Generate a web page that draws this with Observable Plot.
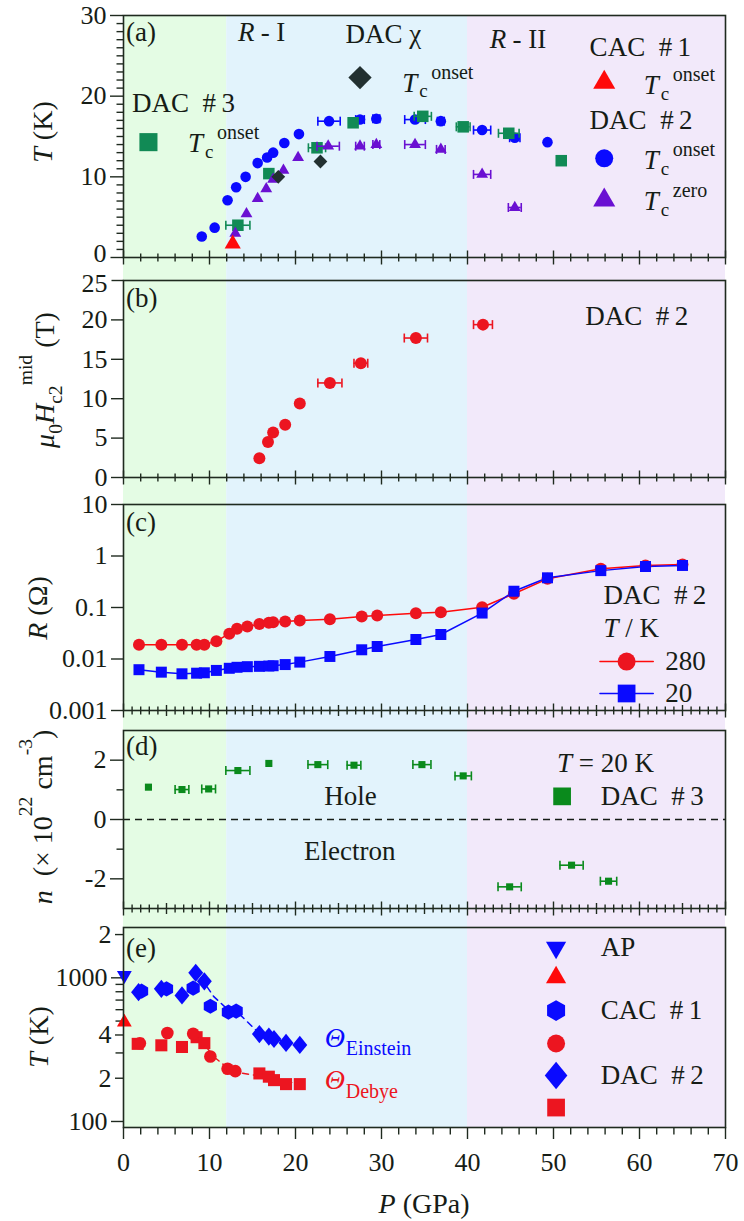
<!DOCTYPE html>
<html><head><meta charset="utf-8">
<script src="https://cdn.jsdelivr.net/npm/d3@7"></script>
<script src="https://cdn.jsdelivr.net/npm/@observablehq/plot@0.6"></script>
<style>
html,body{margin:0;padding:0;background:#fff;}
#chart{position:relative;width:744px;height:1221px;overflow:hidden;background:#fff;}
#chart svg{position:absolute;left:0;overflow:visible;}
#chart svg, #chart svg text, #chart svg tspan{font-family:"Liberation Serif","Times New Roman",Tinos,"DejaVu Serif",serif !important;}
</style></head><body><div id="chart"></div>
<script>
// ================= DATA =================
const pressureRange = [0, 70];
const regionBounds = [0, 12, 40, 70];

// (a) Tc vs P : [P (GPa), T (K), P error (GPa)]
const dac2TcOnset = [[9.1,2.6,0],[10.6,3.7,0],[12.1,7.1,0],[13.1,8.7,0],[14.2,10.0,0],[15.6,11.7,0],[16.7,12.4,0],[17.4,13.0,0],[18.7,14.2,0],[20.4,15.3,0],[23.9,16.9,1.3],[27.5,17.1,0.5],[29.4,17.2,0.4],[33.9,17.1,1.2],[36.9,16.9,0.4],[41.7,15.8,1.0],[45.5,14.85,0.6],[49.3,14.3,0]];
const dac2TcZero = [[13.0,3.0,0],[14.3,5.4,0],[15.6,7.3,0],[16.6,8.5,0],[17.4,9.7,0],[18.6,10.8,0],[20.3,12.4,0],[23.8,13.8,1.3],[27.5,13.8,0.5],[29.4,14.0,0.4],[33.9,14.0,1.2],[36.9,13.4,0.5],[41.7,10.3,1.0],[45.5,6.2,0.75]];
const dac3TcOnset = [[13.3,4.0,1.4],[16.9,10.4,0],[22.5,13.6,1.0],[26.7,16.7,0],[34.8,17.5,1.0],[39.5,16.2,0.8],[44.8,15.4,1.2],[50.9,12.0,0]];
const cac1TcOnset = [[12.7,1.7]];
const dacChiTcOnset = [[18.0,10.0],[22.9,11.9]];

// (b) upper critical field : [P, mu0Hc2 (T), P error]
const dac2Hc2 = [[15.8,2.45,0],[16.8,4.5,0],[17.4,5.7,0],[18.8,6.7,0],[20.5,9.4,0],[24.0,12.0,1.4],[27.6,14.5,0.8],[34.0,17.7,1.35],[41.8,19.4,1.1]];

// (c) resistance of DAC #2
const resP   = [1.8,4.4,6.8,8.5,9.4,10.8,12.3,13.2,14.4,15.8,16.9,17.4,18.8,20.5,24.0,27.7,29.5,34.0,36.9,41.7,45.4,49.3,55.5,60.7,65.0];
const res280 = [0.0189,0.0189,0.0189,0.0189,0.019,0.0222,0.031,0.0386,0.0426,0.048,0.0505,0.0519,0.0534,0.056,0.0593,0.0668,0.070,0.0776,0.081,0.101,0.185,0.36,0.563,0.655,0.684];
const res20  = [0.0062,0.00555,0.00516,0.0053,0.0054,0.006,0.0066,0.0069,0.0071,0.0072,0.0073,0.0074,0.0078,0.0087,0.0112,0.0151,0.0175,0.0239,0.0299,0.078,0.207,0.377,0.52,0.625,0.655];

// (d) Hall carrier density : [P, n (1e22 cm^-3), P error]
const hallN = [[2.9,1.09,0],[6.8,1.01,0.8],[9.9,1.03,0.8],[13.3,1.65,1.4],[16.9,1.89,0],[22.6,1.85,1.15],[26.8,1.83,0.8],[34.7,1.85,1.05],[39.5,1.47,0.95],[44.9,-2.27,1.35],[52.1,-1.54,1.35],[56.4,-2.08,0.95]];

// (e) Einstein / Debye temperatures : [P, T (K)]
const apEinstein = [[0.1,1040]];
const apDebye = [[0.1,490]];
const cac1Einstein = [[2.1,807],[5.0,838],[8.1,847],[10.1,634],[12.2,577],[13.1,586]];
const cac1Debye = [[1.9,350],[5.1,413],[8.1,408],[10.1,283],[12.1,233],[13.0,224]];
const dac2Einstein = [[1.75,795],[4.4,838],[6.8,754],[8.4,1084],[9.4,946],[15.8,406],[16.9,390],[17.5,375],[18.9,352],[20.5,341]];
const dac2Debye = [[1.65,347],[4.4,339],[6.8,330],[8.5,386],[9.4,351],[15.8,216],[16.9,205],[17.5,194],[18.9,182],[20.5,182]];
const einsteinGuide = [[9.0,1000],[10.5,740],[12.2,595],[13.3,572],[15.8,410],[18.0,368],[20.5,343]];
const debyeGuide = [[9.0,370],[10.5,282],[12.2,234],[13.5,218],[15.8,208],[20.5,182]];

// tick labels
const xTickLabels = [0,10,20,30,40,50,60,70];
const aTickLabels = [10,20,30];
const aBottomTickLabel = [0];
const bTickLabels = [0,5,10,15,20];
const bTopTickLabel = [25];
const cTickLabels = [0.001,0.01,0.1,1,10];
const dTickLabels = [-2,0,2];
const eMajorTickLabels = [100,1000];
const eMinorTickLabels = [200,400,2000];
const eUnlabeledTicks = [300,500,600,700,800,900];

// ================= STYLE / LAYOUT =================
const FONT = "Liberation Serif, Times New Roman, Tinos, DejaVu Serif, serif";
const INK = "#161c16";
const FRAME = "#1f2a1f";
const BG = ["#e4fce4", "#e2f3fc", "#f2e9fa"];
const BLUE = "#0a0aff", PURPLE = "#6a10d2", TEAL = "#118a55", GREEN = "#0a8a1c";
const RED = "#ec1520", RED2 = "#ff0a0a", DARK = "#223030";
const W = 744, ML = 123, MR = 19;
const PANELS = {a:[15,257], b:[280,477], c:[504,710], d:[730,908], e:[927,1127]};
const chart = document.getElementById("chart");

const sym = {
  vbar:  {draw(c,s){const r=Math.sqrt(s/Math.PI); c.moveTo(0,-r); c.lineTo(0,r);}},
  vdown: {draw(c,s){const r=Math.sqrt(s/Math.PI); c.moveTo(0,0); c.lineTo(0,r);}},
  hleft: {draw(c,s){const r=Math.sqrt(s/Math.PI); c.moveTo(-r,0); c.lineTo(0,0);}},
  diamond: {draw(c,s){const h=Math.sqrt(s/2); c.moveTo(0,-h); c.lineTo(h,0); c.lineTo(0,h); c.lineTo(-h,0); c.closePath();}},
  diamondTall: {draw(c,s){const h=Math.sqrt(s/2)*1.1, w=h*0.82; c.moveTo(0,-h); c.lineTo(w,0); c.lineTo(0,h); c.lineTo(-w,0); c.closePath();}},
  triDown: {draw(c,s){const a=Math.sqrt(s/0.433), h=a*0.866; c.moveTo(-a/2,-h/3); c.lineTo(a/2,-h/3); c.lineTo(0,2*h/3); c.closePath();}}
};
const X = d => d[0], Y = d => d[1];

function errBars(data, color) {
  const e = data.filter(d => d[2] > 0);
  return [
    Plot.ruleY(e, {y: Y, x1: d => d[0]-d[2], x2: d => d[0]+d[2], stroke: color, strokeWidth: 1.6}),
    Plot.dot(e, {x: d => d[0]-d[2], y: Y, symbol: sym.vbar, r: 4.5, stroke: color, strokeWidth: 1.6, fill: "none"}),
    Plot.dot(e, {x: d => d[0]+d[2], y: Y, symbol: sym.vbar, r: 4.5, stroke: color, strokeWidth: 1.6, fill: "none"})
  ];
}
function xCrossTicks(yBase, step) {
  const all = d3.range(0, 70 + step/2, step);
  const groups = [[all.filter(v => v % 10 === 0), 7], [all.filter(v => v % 10 !== 0 && v % 5 === 0), 5.5], [all.filter(v => v % 5 !== 0), 4]];
  return groups.map(([vals, len]) => Plot.dot(vals, {x: d => d, y: () => yBase, symbol: sym.vbar, r: len, stroke: FRAME, strokeWidth: 1.4, fill: "none"}));
}
function yMinor(vals, len = 7) {
  return Plot.dot(vals, {x: () => 0, y: d => d, symbol: sym.hleft, r: len, stroke: FRAME, strokeWidth: 1.4, fill: "none"});
}
function yAxis(ticks, fmt = d => String(d), size = 13) {
  return Plot.axisY({ticks, tickSize: size, tickPadding: 4, tickFormat: fmt, label: null, stroke: FRAME, strokeWidth: 1.4, fontSize: 26});
}
// a tick label nudged vertically (its tick drawn separately, unshifted)
function yLabelNudged(ticks, tickLen, dy) {
  return [
    yMinor(ticks, tickLen),
    Plot.axisY({ticks, tickSize: 0, tickPadding: tickLen + 4, tickFormat: d => String(d), label: null, fontSize: 26, dy})
  ];
}
function t(x, y, s, o = {}) {
  return Plot.text([[x, y]], {x: X, y: Y, text: () => s, textAnchor: "start", fontSize: 27, fill: INK, fontFamily: FONT, ...o});
}
function tc(x, y, sup, color = INK) {
  return [
    t(x, y, "T", {fontStyle: "italic", fill: color}),
    t(x, y, "c", {fontSize: 19, dx: 17, dy: 8, fill: color}),
    t(x, y, sup, {fontSize: 20, dx: 29, dy: -11, fill: color})
  ];
}
function panel(key, yOpt, marks, mb = 14) {
  const [top, bottom] = PANELS[key];
  const mt = 15;
  const svg = Plot.plot({
    width: W, height: bottom - top + mt + mb,
    marginLeft: ML, marginRight: MR, marginTop: mt, marginBottom: mb,
    style: `font-family: ${FONT}; font-size: 26px; color: ${INK}; background: transparent; overflow: visible;`,
    x: key === "e" ? {domain: pressureRange} : {domain: pressureRange, axis: null},
    y: {...yOpt, label: null},
    marks: [...marks, Plot.frame({stroke: FRAME, strokeWidth: 1.6})]
  });
  svg.style.position = "absolute";
  svg.style.left = "0px";
  svg.style.top = (top - mt) + "px";
  chart.appendChild(svg);
  return {svg, offset: top - mt};
}
function rich({svg, offset}, {x, y, rotate = 0, anchor = "middle", size = 28, color = INK, parts}) {
  const el = d3.select(svg).append("text")
    .attr("transform", `translate(${x},${y - offset})` + (rotate ? ` rotate(${rotate})` : ""))
    .attr("text-anchor", anchor).attr("font-size", size).attr("fill", color)
    .attr("font-family", FONT).style("white-space", "pre");
  let shift = 0;
  for (const [s, o = {}] of parts) {
    const target = o.sub ? size * 0.28 : o.sup ? -size * o.sup : 0;
    const ts = el.append("tspan").attr("dy", target - shift).text(s);
    shift = target;
    if (o.it) ts.attr("font-style", "italic");
    if (o.sub || o.sup) ts.attr("font-size", size * 0.7);
  }
}

// ================= BACKGROUND =================
const regions = d3.pairs(regionBounds);
const bg = Plot.plot({
  width: W, height: PANELS.e[1], marginTop: PANELS.a[0], marginBottom: 0, marginLeft: ML, marginRight: MR,
  style: "background: transparent;",
  x: {domain: pressureRange, axis: null}, y: {axis: null},
  marks: regions.map((r, i) => Plot.rect([r], {x1: d => d[0], x2: d => d[1], fill: BG[i]}))
});
bg.style.position = "absolute";
bg.style.top = "0px";
chart.appendChild(bg);

// ================= PANEL (a) =================
const pa = panel("a", {domain: [0, 30]}, [
  yMinor(d3.range(0, 31).filter(v => v % 10 !== 0)),
  yAxis(aTickLabels),
  ...yLabelNudged(aBottomTickLabel, 13, -3.5),
  ...xCrossTicks(0, 2),
  ...errBars(dac2TcOnset, BLUE),
  Plot.dot(dac2TcOnset, {x: X, y: Y, r: 5.3, fill: BLUE}),
  ...errBars(dac3TcOnset, TEAL),
  Plot.dot(dac3TcOnset, {x: X, y: Y, symbol: "square", r: 6.5, fill: TEAL}),
  ...errBars(dac2TcZero, PURPLE),
  Plot.dot(dac2TcZero, {x: X, y: Y, symbol: "triangle", r: 4.4, fill: PURPLE}),
  Plot.dot(dacChiTcOnset, {x: X, y: Y, symbol: sym.diamond, r: 5.5, fill: DARK}),
  Plot.dot(cac1TcOnset, {x: X, y: Y, symbol: "triangle", r: 6, fill: RED2}),
  // annotations / legend
  t(0.3, 27.9, "(a)"),
  t(13.3, 27.9, "R", {fontStyle: "italic"}), t(13.3, 27.9, " - I", {dx: 16}),
  t(25.8, 27.7, "DAC χ"),
  Plot.dot([[27.5, 22.3]], {x: X, y: Y, symbol: sym.diamond, r: 9.3, fill: DARK}),
  ...tc(32.4, 21.6, "onset"),
  t(42.6, 27.0, "R", {fontStyle: "italic"}), t(42.6, 27.0, " - II", {dx: 16}),
  t(54.2, 26.0, "CAC\u2002#\u20091"),
  Plot.dot([[55.9, 21.7]], {x: X, y: Y, symbol: "triangle", r: 8.2, fill: RED2}),
  ...tc(60.5, 21.3, "onset"),
  t(54.2, 17.0, "DAC\u2002#\u20092"),
  Plot.dot([[55.9, 12.3]], {x: X, y: Y, r: 9, fill: BLUE}),
  ...tc(60.5, 12.0, "onset"),
  Plot.dot([[55.9, 7.1]], {x: X, y: Y, symbol: "triangle", r: 8.2, fill: PURPLE}),
  ...tc(60.5, 6.9, "zero"),
  t(1.0, 19.1, "DAC\u2002#\u20093"),
  Plot.dot([[2.9, 14.3]], {x: X, y: Y, symbol: "square", r: 10.2, fill: TEAL}),
  ...tc(7.5, 14.1, "onset")
]);
rich(pa, {x: 52, y: 132, rotate: -90, parts: [["T", {it: 1}], [" (K)"]]});

// ================= PANEL (b) =================
const pb = panel("b", {domain: [0, 25]}, [
  yAxis(bTickLabels, d => String(d), 12),
  ...yLabelNudged(bTopTickLabel, 12, 3.5),
  ...xCrossTicks(0, 2),
  ...errBars(dac2Hc2, RED),
  Plot.dot(dac2Hc2, {x: X, y: Y, r: 6, fill: RED}),
  t(0.3, 22.7, "(b)"),
  t(53.7, 20.4, "DAC\u2002#\u20092")
]);
rich(pb, {x: 54, y: 380, rotate: -90, parts: [["μ", {it: 1}], ["0", {sub: 1}], ["H", {it: 1}], ["c2", {sub: 1}], ["mid", {sup: 0.78}], [" (T)"]]});

// ================= PANEL (c) =================
const rows280 = resP.map((p, i) => [p, res280[i]]);
const rows20 = resP.map((p, i) => [p, res20[i]]);
const pc = panel("c", {type: "log", domain: [0.001, 10]}, [
  yAxis(cTickLabels, d => String(d), 12),
  ...xCrossTicks(0.001, 1),
  Plot.line(rows280, {x: X, y: Y, stroke: RED2, strokeWidth: 1.5}),
  Plot.line(rows20, {x: X, y: Y, stroke: BLUE, strokeWidth: 1.5}),
  Plot.dot(rows280, {x: X, y: Y, r: 6, fill: RED}),
  Plot.dot(rows20, {x: X, y: Y, symbol: "square", r: 6.2, fill: BLUE}),
  t(0.3, 4.47, "(c)"),
  t(55.8, 0.171, "DAC\u2002#\u20092"),
  t(55.8, 0.039, "T", {fontStyle: "italic"}), t(55.8, 0.039, " / K", {dx: 15}),
  Plot.line([[55.4, 0.00893], [61.6, 0.00893]], {x: X, y: Y, stroke: RED2, strokeWidth: 1.5}),
  Plot.dot([[58.5, 0.00893]], {x: X, y: Y, r: 9, fill: RED}),
  t(63.0, 0.00893, "280"),
  Plot.line([[55.4, 0.00214], [61.6, 0.00214]], {x: X, y: Y, stroke: BLUE, strokeWidth: 1.5}),
  Plot.dot([[58.5, 0.00214]], {x: X, y: Y, symbol: "square", r: 10, fill: BLUE}),
  t(63.0, 0.00214, "20")
]);
rich(pc, {x: 47, y: 608, rotate: -90, parts: [["R", {it: 1}], [" (Ω)"]]});

// ================= PANEL (d) =================
const pd = panel("d", {domain: [-3, 3]}, [
  yMinor([-1, 1]),
  yAxis(dTickLabels),
  ...xCrossTicks(-3, 1),
  Plot.ruleY([0], {stroke: INK, strokeWidth: 1.5, strokeDasharray: "7,5"}),
  ...errBars(hallN, GREEN),
  Plot.dot(hallN, {x: X, y: Y, symbol: "square", r: 4, fill: GREEN}),
  t(0.3, 2.47, "(d)"),
  t(50.4, 1.9, "T", {fontStyle: "italic"}), t(50.4, 1.9, " = 20 K", {dx: 15}),
  Plot.dot([[51.0, 0.78]], {x: X, y: Y, symbol: "square", r: 10, fill: GREEN}),
  t(55.5, 0.78, "DAC\u2002#\u20093"),
  t(26.4, 0.78, "Hole", {textAnchor: "middle"}),
  t(26.3, -1.07, "Electron", {textAnchor: "middle"})
]);
rich(pd, {x: 52, y: 817, rotate: -90, parts: [["n", {it: 1}], ["  (× 10"], ["22", {sup: 0.72}], [" cm"], ["-3", {sup: 0.72}], [")"]]});

// ================= PANEL (e) =================
const pe = panel("e", {type: "log", domain: [90.8, 2240]}, [
  yMinor(eUnlabeledTicks, 8),
  yAxis(eMajorTickLabels, d => String(d), 12),
  yAxis(eMinorTickLabels, d => String(d).charAt(0), 8),
  Plot.axisX({ticks: xTickLabels, tickSize: 12, tickPadding: 13, tickFormat: d => String(d), label: null, stroke: FRAME, strokeWidth: 1.4, fontSize: 26}),
  Plot.dot(d3.range(2, 70, 2).filter(v => v % 10 !== 0), {x: d => d, y: () => 90.8, symbol: sym.vdown, r: 7, stroke: FRAME, strokeWidth: 1.4, fill: "none"}),
  Plot.line(einsteinGuide, {x: X, y: Y, stroke: BLUE, strokeWidth: 1.5, strokeDasharray: "6,5"}),
  Plot.line(debyeGuide, {x: X, y: Y, stroke: RED, strokeWidth: 1.5, strokeDasharray: "6,5"}),
  Plot.dot(dac2Einstein, {x: X, y: Y, symbol: sym.diamondTall, r: 6.6, fill: BLUE}),
  Plot.dot(cac1Einstein, {x: X, y: Y, symbol: "hexagon", r: 6.6, fill: BLUE}),
  Plot.dot(dac2Debye, {x: X, y: Y, symbol: "square", r: 6.8, fill: RED}),
  Plot.dot(cac1Debye, {x: X, y: Y, r: 6.3, fill: RED}),
  Plot.dot(apEinstein, {x: X, y: Y, symbol: sym.triDown, r: 5.5, fill: BLUE}),
  Plot.dot(apDebye, {x: X, y: Y, symbol: "triangle", r: 5.5, fill: RED2}),
  t(0.3, 1600, "(e)"),
  Plot.dot([[50.3, 1625]], {x: X, y: Y, symbol: sym.triDown, r: 7.5, fill: BLUE}),
  Plot.dot([[50.3, 1005]], {x: X, y: Y, symbol: "triangle", r: 7.5, fill: RED2}),
  Plot.dot([[50.3, 592]], {x: X, y: Y, symbol: "hexagon", r: 9, fill: BLUE}),
  Plot.dot([[50.3, 349]], {x: X, y: Y, r: 9, fill: RED}),
  Plot.dot([[50.3, 209]], {x: X, y: Y, symbol: sym.diamondTall, r: 10, fill: BLUE}),
  Plot.dot([[50.3, 125]], {x: X, y: Y, symbol: "square", r: 10, fill: RED}),
  t(55.5, 1625, "AP"),
  t(55.5, 592, "CAC\u2002#\u20091"),
  t(55.5, 209, "DAC\u2002#\u20092"),
  t(23.4, 379, "Θ", {fontStyle: "italic", fill: BLUE, fontSize: 28}),
  t(23.4, 379, "Einstein", {fill: BLUE, fontSize: 20, dx: 21, dy: 10}),
  t(23.4, 193, "Θ", {fontStyle: "italic", fill: RED, fontSize: 28}),
  t(23.4, 193, "Debye", {fill: RED, fontSize: 20, dx: 21, dy: 11})
], 94);
rich(pe, {x: 48, y: 1037, rotate: -90, parts: [["T", {it: 1}], [" (K)"]]});
rich(pe, {x: 424, y: 1213, parts: [["P", {it: 1}], [" (GPa)"]]});
</script>
</body></html>
